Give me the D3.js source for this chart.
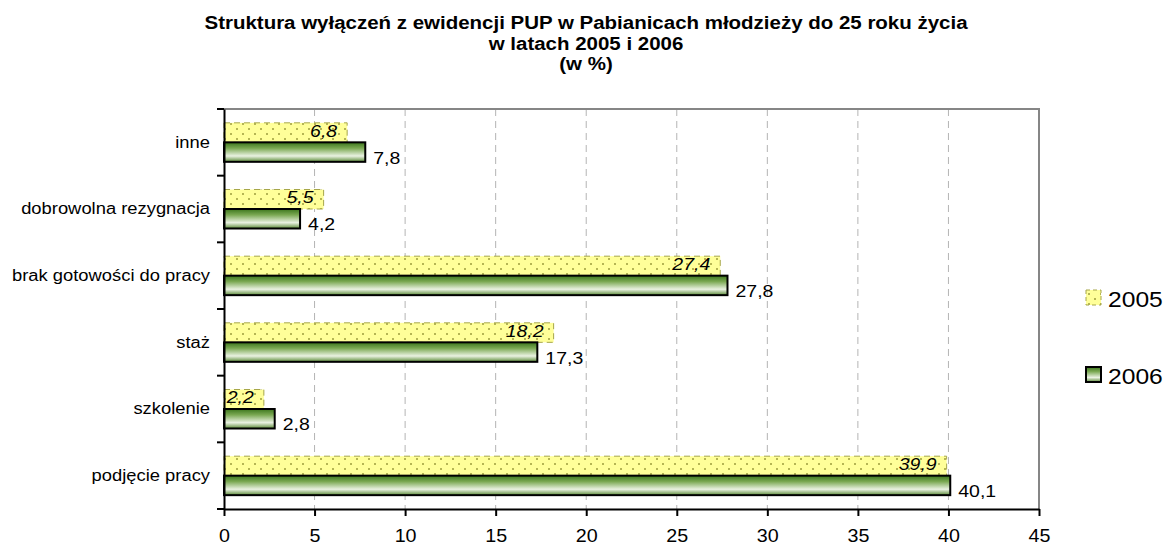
<!DOCTYPE html>
<html>
<head>
<meta charset="utf-8">
<script src="https://cdn.jsdelivr.net/npm/d3@7"></script>
<style>
  body { margin: 0; background: #fff; }
  svg { font-family: "Liberation Sans", Arial, sans-serif; }
</style>
</head>
<body>
<svg id="chart" width="1170" height="547"></svg>
<script>
// data, bottom to top as in the original chart
const categories = ["podjęcie pracy", "szkolenie", "staż", "brak gotowości do pracy", "dobrowolna rezygnacja", "inne"];
const values2005 = [39.9, 2.2, 18.2, 27.4, 5.5, 6.8];
const values2006 = [40.1, 2.8, 17.3, 27.8, 4.2, 7.8];
const seriesNames = ["2005", "2006"];
const xTicks = [0, 5, 10, 15, 20, 25, 30, 35, 40, 45];
const titleLines = [
  "Struktura wyłączeń z ewidencji PUP w Pabianicach młodzieży do 25 roku życia",
  "w latach 2005 i 2006",
  "(w %)"
];

const svg = d3.select("#chart");
const pLeft = 224, pRight = 1039, pTop = 109, pBottom = 509;
const sx = 1.12; // the original text is a bit wider than plain Arial

const x = d3.scaleLinear().domain([0, 45]).range([pLeft, pRight]);
const y = d3.scaleBand().domain(categories.slice().reverse()).range([pTop, pBottom]);
const ys = d3.scaleBand().domain(seriesNames).range([0, y.bandwidth()]).paddingOuter(0.71);

const fmt = v => v.toFixed(1).replace(".", ",");
const at = (px, py) => `translate(${px},${py}) scale(${sx},1)`;

// defs: pattern for 2005, gradient for 2006
const defs = svg.append("defs");
const pat = defs.append("pattern")
  .attr("id", "dots")
  .attr("patternUnits", "userSpaceOnUse")
  .attr("width", 12).attr("height", 10);
pat.append("rect").attr("width", 12).attr("height", 10).attr("fill", "#ffff99");
pat.append("circle").attr("cx", 3).attr("cy", 4).attr("r", 1).attr("fill", "#9c9c3c");
pat.append("circle").attr("cx", 9).attr("cy", 9).attr("r", 1).attr("fill", "#9c9c3c");

const grad = defs.append("linearGradient")
  .attr("id", "green")
  .attr("x1", 0).attr("y1", 0).attr("x2", 0).attr("y2", 1);
grad.append("stop").attr("offset", "0%").attr("stop-color", "#3b751c");
grad.append("stop").attr("offset", "30%").attr("stop-color", "#7aa852");
grad.append("stop").attr("offset", "70%").attr("stop-color", "#eaf2e2");
grad.append("stop").attr("offset", "100%").attr("stop-color", "#5a8a36");

// title
svg.append("g").selectAll("text")
  .data(titleLines)
  .join("text")
  .attr("transform", (d, i) => at(586, 29 + i * 20.5))
  .attr("text-anchor", "middle")
  .attr("font-size", 18.3)
  .attr("font-weight", "bold")
  .text(d => d);

// gridlines
svg.append("g").selectAll("line")
  .data(xTicks.filter(t => t > 0 && t < 45))
  .join("line")
  .attr("x1", d => x(d)).attr("x2", d => x(d))
  .attr("y1", pTop).attr("y2", pBottom)
  .attr("stroke", "#b4b4b4")
  .attr("stroke-dasharray", "7,5");

// plot border (top and right)
svg.append("path")
  .attr("d", `M${pLeft},${pTop}H${pRight}V${pBottom}`)
  .attr("fill", "none")
  .attr("stroke", "#868686")
  .attr("stroke-width", 2);

const rows = categories.map((c, i) => ({ cat: c, v5: values2005[i], v6: values2006[i] }));

// bars 2005
svg.append("g").selectAll("rect")
  .data(rows)
  .join("rect")
  .attr("x", x(0))
  .attr("y", d => y(d.cat) + ys("2005"))
  .attr("width", d => x(d.v5) - x(0))
  .attr("height", ys.bandwidth())
  .attr("fill", "url(#dots)")
  .attr("stroke", "#a6a64a")
  .attr("stroke-dasharray", "6,4");

// bars 2006
svg.append("g").selectAll("rect")
  .data(rows)
  .join("rect")
  .attr("x", x(0))
  .attr("y", d => y(d.cat) + ys("2006"))
  .attr("width", d => x(d.v6) - x(0))
  .attr("height", ys.bandwidth())
  .attr("fill", "url(#green)")
  .attr("stroke", "#000")
  .attr("stroke-width", 2);

// labels 2005 (italic, inside end)
svg.append("g").selectAll("text")
  .data(rows)
  .join("text")
  .attr("transform", d => at(x(d.v5) - 10, y(d.cat) + ys("2005") + ys.bandwidth() / 2 + 4))
  .attr("text-anchor", "end")
  .attr("font-size", 17.4)
  .attr("font-style", "italic")
  .text(d => fmt(d.v5));

// labels 2006 (outside end)
svg.append("g").selectAll("text")
  .data(rows)
  .join("text")
  .attr("transform", d => at(x(d.v6) + 8, y(d.cat) + ys("2006") + ys.bandwidth() / 2 + 11.5))
  .attr("font-size", 17.4)
  .text(d => fmt(d.v6));

// x axis
const xAxis = svg.append("g")
  .attr("transform", `translate(0,${pBottom})`)
  .call(d3.axisBottom(x).tickValues(xTicks).tickSize(7).tickPadding(14).tickSizeOuter(0));
xAxis.select(".domain").attr("stroke", "#000").attr("stroke-width", 2);
xAxis.selectAll(".tick line").attr("stroke", "#000").attr("stroke-width", 2);
xAxis.selectAll("text")
  .attr("transform", `scale(${sx},1)`)
  .attr("font-size", 17.6)
  .attr("font-family", "Liberation Sans, Arial, sans-serif")
  .attr("fill", "#000");

// y axis
const yAxis = svg.append("g")
  .attr("transform", `translate(${pLeft},0)`)
  .call(d3.axisLeft(y).tickSize(0).tickPadding(14));
yAxis.select(".domain").attr("stroke", "#000").attr("stroke-width", 2);
yAxis.selectAll("text")
  .attr("x", -14 / sx)
  .attr("transform", `scale(${sx},1)`)
  .attr("font-size", 16.4)
  .attr("font-family", "Liberation Sans, Arial, sans-serif")
  .attr("fill", "#000");
yAxis.selectAll(".bound")
  .data(y.domain().map(d => y(d)).concat([pBottom]))
  .join("line")
  .attr("class", "bound")
  .attr("x1", -7).attr("x2", 0)
  .attr("y1", d => d).attr("y2", d => d)
  .attr("stroke", "#000")
  .attr("stroke-width", 2);

// legend
const legend = svg.append("g").selectAll("g")
  .data(seriesNames)
  .join("g")
  .attr("transform", (d, i) => `translate(1086,${290 + i * 77})`);
legend.append("rect")
  .attr("width", 15).attr("height", 15)
  .attr("fill", d => d === "2005" ? "url(#dots)" : "url(#green)")
  .attr("stroke", d => d === "2005" ? "#a6a64a" : "#000")
  .attr("stroke-width", d => d === "2005" ? 1 : 2)
  .attr("stroke-dasharray", d => d === "2005" ? "4,3" : null);
legend.append("text")
  .attr("transform", at(22, 16.5))
  .attr("font-size", 22)
  .text(d => d);
</script>
</body>
</html>
